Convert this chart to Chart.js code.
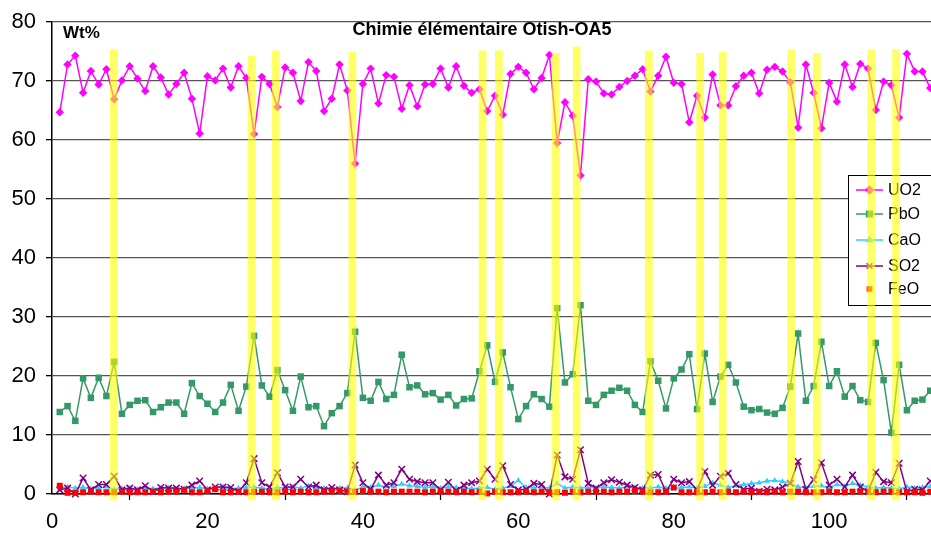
<!DOCTYPE html>
<html>
<head>
<meta charset="utf-8">
<script src="https://cdn.jsdelivr.net/npm/chart.js@4.4.1/dist/chart.umd.min.js"></script>
<style>
  html, body { margin: 0; padding: 0; background: #fff; }
  #graficoChimie { display: block; }
</style>
</head>
<body>
<canvas id="graficoChimie" width="931" height="534"></canvas>
<script>
// Numéros d'échantillon (axe des x)
const echantillons = [
  1, 2, 3, 4, 5, 6, 7, 8, 9, 10, 11, 12, 13, 14, 15, 16, 17, 18, 19, 20,
  21, 22, 23, 24, 25, 26, 27, 28, 29, 30, 31, 32, 33, 34, 35, 36, 37, 38, 39, 40,
  41, 42, 43, 44, 45, 46, 47, 48, 49, 50, 51, 52, 53, 54, 55, 56, 57, 58, 59, 60,
  61, 62, 63, 64, 65, 66, 67, 68, 69, 70, 71, 72, 73, 74, 75, 76, 77, 78, 79, 80,
  81, 82, 83, 84, 85, 86, 87, 88, 89, 90, 91, 92, 93, 94, 95, 96, 97, 98, 99, 100,
  101, 102, 103, 104, 105, 106, 107, 108, 109, 110, 111, 112, 113
];

// Teneurs en Wt%
const uo2 = [
  64.7, 72.8, 74.3, 68.0, 71.7, 69.4, 72.0, 66.9, 70.1, 72.5,
  70.4, 68.3, 72.5, 70.6, 67.7, 69.5, 71.4, 67.0, 61.1, 70.8,
  70.1, 72.1, 68.9, 72.5, 70.5, 61.0, 70.7, 69.5, 65.6, 72.3,
  71.4, 66.6, 73.2, 71.7, 64.9, 67.0, 72.8, 68.4, 56.0, 69.5,
  72.1, 66.2, 71.0, 70.7, 65.3, 69.3, 65.7, 69.4, 69.5, 72.1,
  68.9, 72.5, 69.2, 68.0, 68.6, 64.9, 67.5, 64.3, 71.2, 72.4,
  71.4, 68.6, 70.5, 74.4, 59.5, 66.4, 64.1, 54.0, 70.3, 69.9,
  67.9, 67.7, 69.0, 70.0, 70.9, 72.0, 68.2, 70.9, 74.1, 69.7,
  69.5, 63.0, 67.5, 63.8, 71.1, 65.9, 65.9, 69.1, 70.9, 71.4,
  67.9, 71.9, 72.4, 71.6, 69.8, 62.1, 72.8, 68.0, 62.0, 69.7,
  66.5, 72.8, 69.0, 72.9, 72.1, 65.1, 69.9, 69.3, 63.8, 74.6,
  71.6, 71.6, 68.8
];

const pbo = [
  13.9, 14.9, 12.4, 19.6, 16.3, 19.7, 16.6, 22.4, 13.6, 15.1,
  15.8, 15.9, 13.9, 14.7, 15.5, 15.5, 13.6, 18.8, 16.6, 15.3,
  13.9, 15.5, 18.5, 14.1, 18.2, 26.8, 18.4, 16.5, 21.0, 17.6,
  14.1, 19.9, 14.7, 14.9, 11.5, 13.7, 14.9, 17.1, 27.5, 16.3,
  15.8, 19.0, 16.1, 16.8, 23.6, 18.1, 18.4, 16.9, 17.1, 16.0,
  16.8, 15.0, 16.1, 16.2, 20.8, 25.2, 19.0, 24.0, 18.1, 12.7,
  14.9, 16.9, 16.1, 14.8, 31.5, 18.9, 20.3, 32.0, 15.8, 15.1,
  16.8, 17.5, 18.0, 17.5, 15.1, 13.9, 22.5, 19.2, 14.5, 19.6,
  21.1, 23.7, 14.4, 23.8, 15.6, 19.9, 21.9, 18.9, 14.8, 14.2,
  14.4, 13.8, 13.6, 14.6, 18.2, 27.2, 15.8, 18.3, 25.8, 18.3,
  20.8, 16.5, 18.3, 15.9, 15.6, 25.6, 19.3, 10.4, 21.9, 14.2,
  15.8, 16.0, 17.5
];

const cao = [
  0.9, 1.2, 1.0, 1.1, 0.9, 1.0, 1.2, 0.8, 0.9, 1.0,
  0.8, 1.0, 0.9, 1.0, 1.0, 0.8, 0.9, 1.0, 1.1, 0.9,
  1.0, 1.2, 0.9, 1.0, 1.1, 1.2, 1.0, 0.9, 1.1, 1.0,
  1.2, 1.0, 1.4, 1.1, 1.0, 0.9, 1.0, 1.0, 0.6, 1.2,
  1.1, 1.5, 1.2, 1.3, 1.7, 1.4, 1.3, 1.1, 1.2, 1.0,
  1.2, 1.1, 1.0, 0.9, 1.0, 1.1, 0.8, 1.0, 1.3, 2.3,
  1.1, 1.0, 1.2, 1.0, 1.8, 1.0, 1.2, 1.0, 1.1, 1.0,
  1.2, 1.1, 1.0, 1.2, 1.1, 1.0, 1.0, 1.2, 1.0, 0.9,
  1.1, 1.2, 1.0, 1.3, 1.9, 1.5, 1.1, 1.4, 1.6, 1.8,
  1.9, 2.2, 2.3, 2.1, 1.8, 1.2, 1.0, 1.3, 1.4, 1.1,
  1.6, 1.3, 1.8, 1.5, 1.2, 1.0, 1.1, 1.0, 0.9, 1.2,
  1.0, 1.1, 1.3
];

const so2 = [
  0.7, 1.0, 0.0, 2.7, 0.7, 1.6, 1.6, 3.0, 0.7, 1.0,
  0.7, 1.4, 0.4, 1.1, 1.0, 1.0, 0.8, 1.5, 2.2, 0.7,
  1.2, 1.2, 1.1, 0.4, 1.9, 6.0, 1.9, 1.2, 3.6, 1.2,
  1.2, 2.5, 1.2, 1.5, 0.7, 1.1, 0.7, 0.4, 4.9, 1.9,
  0.8, 3.2, 1.5, 1.9, 4.2, 2.5, 2.1, 1.9, 1.9, 0.7,
  2.0, 0.6, 1.5, 1.9, 2.2, 4.2, 2.5, 4.8, 1.6, 0.7,
  0.8, 1.8, 1.6, 0.0, 6.6, 2.9, 2.5, 7.5, 1.8, 1.0,
  1.9, 2.4, 2.0, 1.5, 1.1, 0.7, 3.2, 3.3, 0.4, 2.5,
  1.9, 2.1, 0.7, 3.8, 1.5, 3.0, 3.5, 1.6, 0.8, 1.0,
  0.4, 0.8, 0.7, 1.2, 1.8, 5.5, 0.8, 2.4, 5.3, 1.5,
  2.5, 1.2, 3.2, 1.2, 0.4, 3.7, 2.1, 1.9, 5.2, 0.4,
  0.8, 0.7, 2.2
];

const feo = [
  1.4, 0.2, 0.2, 0.3, 0.4, 0.3, 0.3, 0.3, 0.4, 0.3,
  0.3, 0.3, 0.4, 0.3, 0.4, 0.4, 0.7, 0.3, 0.3, 0.5,
  0.8, 0.3, 0.3, 0.4, 0.3, 0.4, 0.4, 0.3, 0.3, 0.4,
  0.3, 0.4, 0.3, 0.3, 0.4, 0.4, 0.5, 0.4, 0.4, 0.5,
  0.4, 0.4, 0.3, 0.4, 0.4, 0.4, 0.4, 0.3, 0.4, 0.4,
  0.4, 0.3, 0.4, 0.3, 0.4, 0.1, 0.4, 0.3, 0.3, 0.3,
  0.4, 0.3, 0.4, 0.3, 0.3, 0.2, 0.4, 0.3, 0.4, 0.4,
  0.4, 0.3, 0.4, 0.4, 0.5, 0.4, 0.3, 0.3, 0.4, 1.1,
  0.3, 0.3, 0.3, 0.3, 0.4, 0.3, 0.4, 0.3, 0.4, 0.3,
  0.4, 0.3, 0.4, 0.3, 0.4, 0.4, 0.3, 0.3, 0.3, 0.4,
  0.3, 0.3, 0.4, 0.4, 0.4, 0.3, 0.4, 0.4, 0.3, 0.3,
  0.3, 0.2, 0.4
];

// Bandes jaunes : position sur l'axe des x et hauteur
const bandesX = [7.94, 25.7, 28.8, 38.65, 55.4, 57.5, 64.8, 67.5, 76.8, 83.4, 86.3, 95.1, 98.4, 105.4, 108.6];
const bandesHaut = [75.3, 74.2, 75.1, 74.9, 75.1, 75.1, 74.7, 75.8, 75.1, 74.7, 74.9, 75.3, 74.7, 75.3, 75.3];

const ticksY = [0, 10, 20, 30, 40, 50, 60, 70, 80];
const ticksX = [0, 20, 40, 60, 80, 100];

const POLICE = "'Liberation Sans', Arial, sans-serif";

const series = [
  { label: 'UO2', data: uo2, color: '#FF00FF', pointStyle: 'rectRot', radius: 4.2, line: true },
  { label: 'PbO', data: pbo, color: '#339966', pointStyle: 'rect', radius: 4.6, line: true },
  { label: 'CaO', data: cao, color: '#33CCFF', pointStyle: 'triangle', radius: 3.4, line: true },
  { label: 'SO2', data: so2, color: '#800080', pointStyle: 'crossRot', radius: 4.6, line: true },
  { label: 'FeO', data: feo, color: '#FF0000', pointStyle: 'rect', radius: 4.2, line: false }
];

const datasets = series.map(function(s, i) {
  return {
    type: 'line',
    label: s.label,
    data: s.data,
    borderColor: s.color,
    backgroundColor: s.color,
    borderWidth: s.line ? 1.5 : 0,
    showLine: s.line,
    pointStyle: s.pointStyle,
    pointRadius: s.radius,
    pointBorderWidth: s.pointStyle === 'crossRot' ? 1.5 : 0,
    pointBorderColor: s.color,
    pointBackgroundColor: s.color,
    tension: 0,
    order: 10 - i,
    clip: false
  };
});

// Bandes jaunes par-dessus les courbes
datasets.push({
  type: 'bar',
  label: 'bandes',
  data: bandesX.map((x, i) => ({ x: x, y: [-1, bandesHaut[i]] })),
  backgroundColor: 'rgba(255, 255, 0, 0.6)',
  borderWidth: 0,
  barThickness: 7,
  order: 0,
  clip: { left: 0, top: 0, right: 0, bottom: 7 }
});

// Légende encadrée, dessinée juste avant les bandes
const legendePlugin = {
  id: 'legende',
  beforeDatasetDraw(chart, args) {
    if (args.meta.type !== 'bar') return;
    const ctx = chart.ctx;
    ctx.save();
    ctx.fillStyle = '#fff';
    ctx.strokeStyle = '#000';
    ctx.lineWidth = 1;
    ctx.fillRect(848.5, 175.5, 90, 130);
    ctx.strokeRect(848.5, 175.5, 90, 130);
    const lignesY = [190, 214, 240, 266, 289];
    series.forEach(function(s, i) {
      const y = lignesY[i];
      ctx.strokeStyle = s.color;
      ctx.fillStyle = s.color;
      if (s.line) {
        ctx.lineWidth = 1.5;
        ctx.beginPath();
        ctx.moveTo(856, y);
        ctx.lineTo(883, y);
        ctx.stroke();
      }
      ctx.lineWidth = s.pointStyle === 'crossRot' ? 1.5 : 0;
      Chart.helpers.drawPoint(ctx, {
        pointStyle: s.pointStyle,
        radius: s.line ? s.radius - 0.6 : 3,
        rotation: 0,
        borderWidth: ctx.lineWidth
      }, 869.5, y);
      ctx.fillStyle = '#000';
      ctx.font = '16px ' + POLICE;
      ctx.textBaseline = 'middle';
      ctx.textAlign = 'left';
      ctx.fillText(s.label, 888, y + 1);
    });
    ctx.restore();
  }
};

// Titre et unité dans la zone du graphique
const titrePlugin = {
  id: 'titre',
  afterDraw(chart) {
    const ctx = chart.ctx;
    ctx.save();
    ctx.fillStyle = '#000';
    ctx.textBaseline = 'middle';
    ctx.font = 'bold 18px ' + POLICE;
    ctx.textAlign = 'center';
    ctx.fillText('Chimie élémentaire Otish-OA5', 482, 30);
    ctx.textAlign = 'left';
    ctx.font = 'bold 17px ' + POLICE;
    ctx.fillText('Wt%', 63, 33);
    ctx.restore();
  }
};

new Chart(document.getElementById('graficoChimie'), {
  type: 'line',
  data: {
    labels: echantillons,
    datasets: datasets
  },
  options: {
    responsive: false,
    animation: false,
    layout: { autoPadding: false, padding: { top: 22, right: 0, left: 0, bottom: 0 } },
    plugins: {
      legend: { display: false },
      tooltip: { enabled: false }
    },
    scales: {
      x: {
        type: 'linear',
        min: 0,
        max: 113.1,
        offset: false,
        afterBuildTicks: function(axis) {
          axis.ticks = ticksX.map(v => ({ value: v }));
        },
        ticks: {
          color: '#000',
          font: { family: POLICE, size: 22 },
          maxRotation: 0,
          padding: 9
        },
        grid: {
          drawOnChartArea: false,
          drawTicks: true,
          tickLength: 6,
          tickColor: '#000',
          tickWidth: 1.2
        },
        border: { color: '#000', width: 1.5 },
        afterFit: function(scale) {
          scale.height = 40;
          scale.paddingLeft = 0;
          scale.paddingRight = 0;
        }
      },
      y: {
        min: 0,
        max: 80,
        afterBuildTicks: function(axis) {
          axis.ticks = ticksY.map(v => ({ value: v }));
        },
        ticks: {
          color: '#000',
          font: { family: POLICE, size: 22 },
          padding: 10
        },
        grid: {
          color: '#555',
          lineWidth: 1.3,
          tickLength: 6,
          tickColor: '#000'
        },
        border: { color: '#000', width: 1.5 },
        afterFit: function(scale) {
          scale.width = 52;
          scale.paddingTop = 0;
          scale.paddingBottom = 0;
        }
      }
    }
  },
  plugins: [legendePlugin, titrePlugin]
});
</script>
</body>
</html>
